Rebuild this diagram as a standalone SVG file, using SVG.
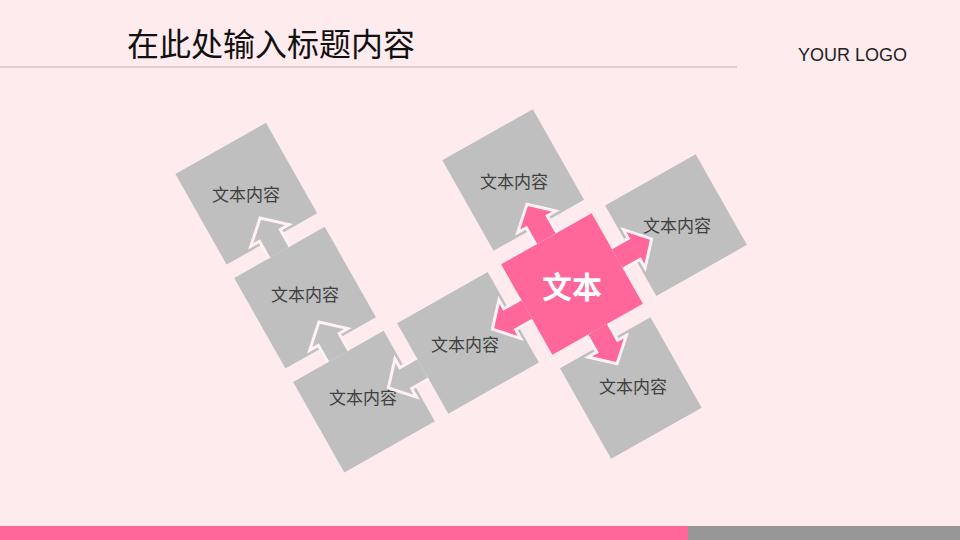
<svg xmlns="http://www.w3.org/2000/svg" width="960" height="540" viewBox="0 0 960 540">
  <style>
    .sq { fill: #BFBFBF; }
    .pk { fill: #FF6699; }
    .lbl { font-family: "Noto Sans CJK SC", "Noto Sans", sans-serif; font-size: 17px; fill: #404040; text-anchor: middle; }
    .ctr { font-family: "Noto Sans CJK SC", "Noto Sans", sans-serif; font-size: 30px; font-weight: bold; fill: #FFFFFF; text-anchor: middle; }
    .arr { stroke: #FFF1F4; stroke-width: 3; stroke-linejoin: miter; }
    .ga { fill: #BFBFBF; }
    .pa { fill: #FF6699; }
  </style>
  <defs>
    <rect id="sqr" x="-52" y="-52" width="104" height="104"/>
    <path id="arrow" d="M12,67.5 L12,48 L22,48 L0,28 L-22,48 L-12,48 L-12,67.5"/>
  </defs>

  <rect x="0" y="0" width="960" height="540" fill="#FDEBEE"/>

  <g id="header">
    <text x="127" y="56" font-family="'Noto Sans CJK SC', sans-serif" font-size="32" fill="#111111">在此处输入标题内容</text>
    <line x1="0" y1="67" x2="737" y2="67" stroke="#C2B3B5" stroke-width="1"/>
    <text x="798" y="61" font-family="'Liberation Sans', Arial, sans-serif" font-size="18" fill="#222222">YOUR LOGO</text>
  </g>

  <g id="node-a">
    <use href="#sqr" class="sq" transform="translate(246.3 193.7) rotate(-29.5)"/>
    <text class="lbl" x="246" y="201">文本内容</text>
  </g>
  <g id="node-b">
    <use href="#sqr" class="sq" transform="translate(305.1 297.7) rotate(-29.5)"/>
    <text class="lbl" x="305" y="301">文本内容</text>
  </g>
  <g id="node-c">
    <use href="#sqr" class="sq" transform="translate(364 401.7) rotate(-29.5)"/>
    <text class="lbl" x="363" y="404">文本内容</text>
  </g>
  <g id="node-d">
    <use href="#sqr" class="sq" transform="translate(468 342.8) rotate(-29.5)"/>
    <text class="lbl" x="465" y="351">文本内容</text>
  </g>
  <g id="node-e">
    <use href="#sqr" class="sq" transform="translate(513.2 180) rotate(-29.5)"/>
    <text class="lbl" x="514" y="188">文本内容</text>
  </g>
  <g id="node-f">
    <use href="#sqr" class="sq" transform="translate(676 225.2) rotate(-29.5)"/>
    <text class="lbl" x="677" y="232">文本内容</text>
  </g>
  <g id="node-g">
    <use href="#sqr" class="sq" transform="translate(630.8 388) rotate(-29.5)"/>
    <text class="lbl" x="633" y="393">文本内容</text>
  </g>
  <g id="node-center">
    <use href="#sqr" class="pk" transform="translate(572 284) rotate(-29.5)"/>
  </g>

  <g id="connectors" transform="translate(572 284) rotate(-29.5)">
    <use href="#arrow" class="arr ga" transform="translate(-239 -239)"/>
    <use href="#arrow" class="arr ga" transform="translate(-239 -119.5)"/>
    <use href="#arrow" class="arr ga" transform="translate(-239 0) rotate(-90)"/>
    <use href="#arrow" class="arr pa" transform="translate(0 -119.5)"/>
    <use href="#arrow" class="arr pa" transform="translate(119.5 0) rotate(90)"/>
    <use href="#arrow" class="arr pa" transform="translate(0 119.5) rotate(180)"/>
    <use href="#arrow" class="arr pa" transform="translate(-119.5 0) rotate(-90)"/>
  </g>

  <text class="ctr" x="572" y="298">文本</text>

  <g id="footer">
    <rect x="0" y="526" width="688" height="14" fill="#FF6699"/>
    <rect x="688" y="526" width="272" height="14" fill="#969696"/>
  </g>
</svg>
